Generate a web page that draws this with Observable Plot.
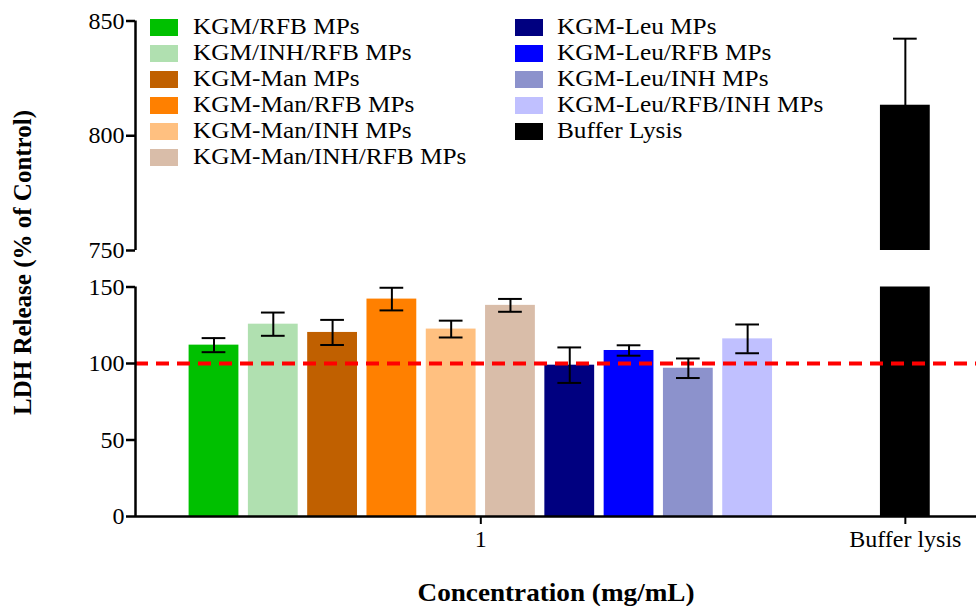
<!DOCTYPE html>
<html>
<head>
<meta charset="utf-8">
<script src="https://cdn.jsdelivr.net/npm/d3@7"></script>
<script src="https://cdn.jsdelivr.net/npm/@observablehq/plot@0.6"></script>
<style>
  html, body { margin: 0; padding: 0; background: #fff; }
  #wrap { position: relative; width: 976px; height: 606px; font-family: "Liberation Serif", "Times New Roman", serif; }
  .legend { position: absolute; top: 14px; }
  .legend .row { height: 26px; display: flex; align-items: center; }
  .legend .sw { width: 28px; height: 17px; flex: none; }
  .legend .lab { font-size: 23px; color: #000; white-space: nowrap; transform: scaleX(1.1); transform-origin: left center; line-height: 26px; }
</style>
</head>
<body>
<div id="wrap"></div>
<script>
// ---- data ----
const series = ["KGM/RFB MPs", "KGM/INH/RFB MPs", "KGM-Man MPs", "KGM-Man/RFB MPs", "KGM-Man/INH MPs",
  "KGM-Man/INH/RFB MPs", "KGM-Leu MPs", "KGM-Leu/RFB MPs", "KGM-Leu/INH MPs", "KGM-Leu/RFB/INH MPs"];
const means = [112, 125.7, 120.3, 142.1, 122.5, 138, 98.9, 108.5, 96.9, 116.1];
const sds = [4.6, 7.6, 8.2, 7.4, 5.5, 4.2, 11.6, 3.4, 6.4, 9.4];
const colors = ["#00c000", "#b0e0b0", "#c06000", "#ff8000", "#ffc080", "#d9bda9",
  "#000080", "#0000ff", "#8c92cc", "#c0c0ff"];
const bufferName = "Buffer Lysis";
const bufferMean = 813.3;
const bufferSd = 29;
const bufferColor = "#000000";
const xTickLabels = ["1", "Buffer lysis"];
const yTicksLow = [0, 50, 100, 150];
const yTicksHigh = [750, 800, 850];
const yBreak = [150, 750];
const yMax = 850;
const controlLevel = 100;
const yLabel = "LDH Release (% of Control)";
const xLabel = "Concentration (mg/mL)";

// ---- layout (slot units) ----
const barHalf = 0.42, capHalf = 0.2;
const groupPos = (series.length - 1) / 2;
const bufferPos = series.length - 1 + 2.66;
const xDomain = [-1.324, 12.86];

const bars = series.map((name, i) => ({name, pos: i, y1: 0, y2: means[i], lo: means[i] - sds[i], hi: means[i] + sds[i]}));
const bufferPieces = [
  {name: bufferName, pos: bufferPos, y1: 0, y2: yBreak[0]},
  {name: bufferName, pos: bufferPos, y1: yBreak[1], y2: bufferMean}
];
const errs = bars.concat([{name: bufferName, pos: bufferPos, lo: bufferMean - bufferSd, hi: bufferMean + bufferSd}]);
const axisSegments = [{y1: 0, y2: yBreak[0]}, {y1: yBreak[1], y2: yMax}];
const xTicks = [groupPos, bufferPos];

const chart = Plot.plot({
  width: 976,
  height: 606,
  marginTop: 8,
  marginBottom: 90,
  marginLeft: 135,
  marginRight: 0,
  style: {fontFamily: "'Liberation Serif', 'Times New Roman', serif", fontSize: "24px", color: "#000", background: "#fff", overflow: "visible"},
  x: {type: "linear", domain: xDomain, range: [135, 976], axis: null},
  y: {type: "linear", domain: [0, yBreak[0], yBreak[1], yMax], range: [516, 286.5, 250, 20.5], axis: null},
  color: {domain: series.concat([bufferName]), range: colors.concat([bufferColor])},
  marks: [
    Plot.rect(bars.concat(bufferPieces), {x1: d => d.pos - barHalf, x2: d => d.pos + barHalf, y1: "y1", y2: "y2", fill: "name"}),
    Plot.ruleY([controlLevel], {stroke: "#ff0000", strokeWidth: 4, strokeDasharray: "13,8"}),
    Plot.ruleX(errs, {x: "pos", y1: "lo", y2: "hi", stroke: "#000", strokeWidth: 2}),
    Plot.ruleY(errs, {y: "hi", x1: d => d.pos - capHalf, x2: d => d.pos + capHalf, stroke: "#000", strokeWidth: 2}),
    Plot.ruleY(errs, {y: "lo", x1: d => d.pos - capHalf, x2: d => d.pos + capHalf, stroke: "#000", strokeWidth: 2}),
    Plot.ruleY([0], {stroke: "#000", strokeWidth: 2.5}),
    Plot.ruleX(axisSegments, {x: xDomain[0], y1: "y1", y2: "y2", stroke: "#000", strokeWidth: 2.5}),
    Plot.axisY(yTicksLow.concat(yTicksHigh), {anchor: "left", tickSize: 9, tickPadding: 2, strokeWidth: 2.5, fontSize: 24,
      label: yLabel, labelArrow: "none", labelAnchor: "center", labelOffset: 122}),
    Plot.axisX(xTicks, {anchor: "bottom", tickSize: 8, tickPadding: 5, strokeWidth: 2, fontSize: 24,
      tickFormat: d => xTickLabels[xTicks.indexOf(d)],
      label: xLabel, labelArrow: "none", labelAnchor: "center", labelOffset: 84})
  ]
});

d3.select(chart).selectAll('g[aria-label="y-axis label"] text')
  .attr("font-weight", "bold").attr("font-size", 25).text(yLabel);
d3.select(chart).selectAll('g[aria-label="x-axis label"] text')
  .attr("font-weight", "bold").attr("font-size", 25)
  .attr("textLength", 277).attr("lengthAdjust", "spacingAndGlyphs").text(xLabel);

const wrap = document.getElementById("wrap");
wrap.appendChild(chart);

// ---- legend ----
function legendColumn(names, cols, left, textLeft) {
  const div = document.createElement("div");
  div.className = "legend";
  div.style.left = left + "px";
  names.forEach((n, i) => {
    const row = document.createElement("div");
    row.className = "row";
    const sw = document.createElement("div");
    sw.className = "sw";
    sw.style.background = cols[i];
    sw.style.marginRight = (textLeft - left - 28) + "px";
    const lab = document.createElement("span");
    lab.className = "lab";
    lab.textContent = n;
    row.appendChild(sw);
    row.appendChild(lab);
    div.appendChild(row);
  });
  wrap.appendChild(div);
}
legendColumn(series.slice(0, 6), colors.slice(0, 6), 150, 193);
legendColumn(series.slice(6).concat([bufferName]), colors.slice(6).concat([bufferColor]), 515, 557);
</script>
</body>
</html>
